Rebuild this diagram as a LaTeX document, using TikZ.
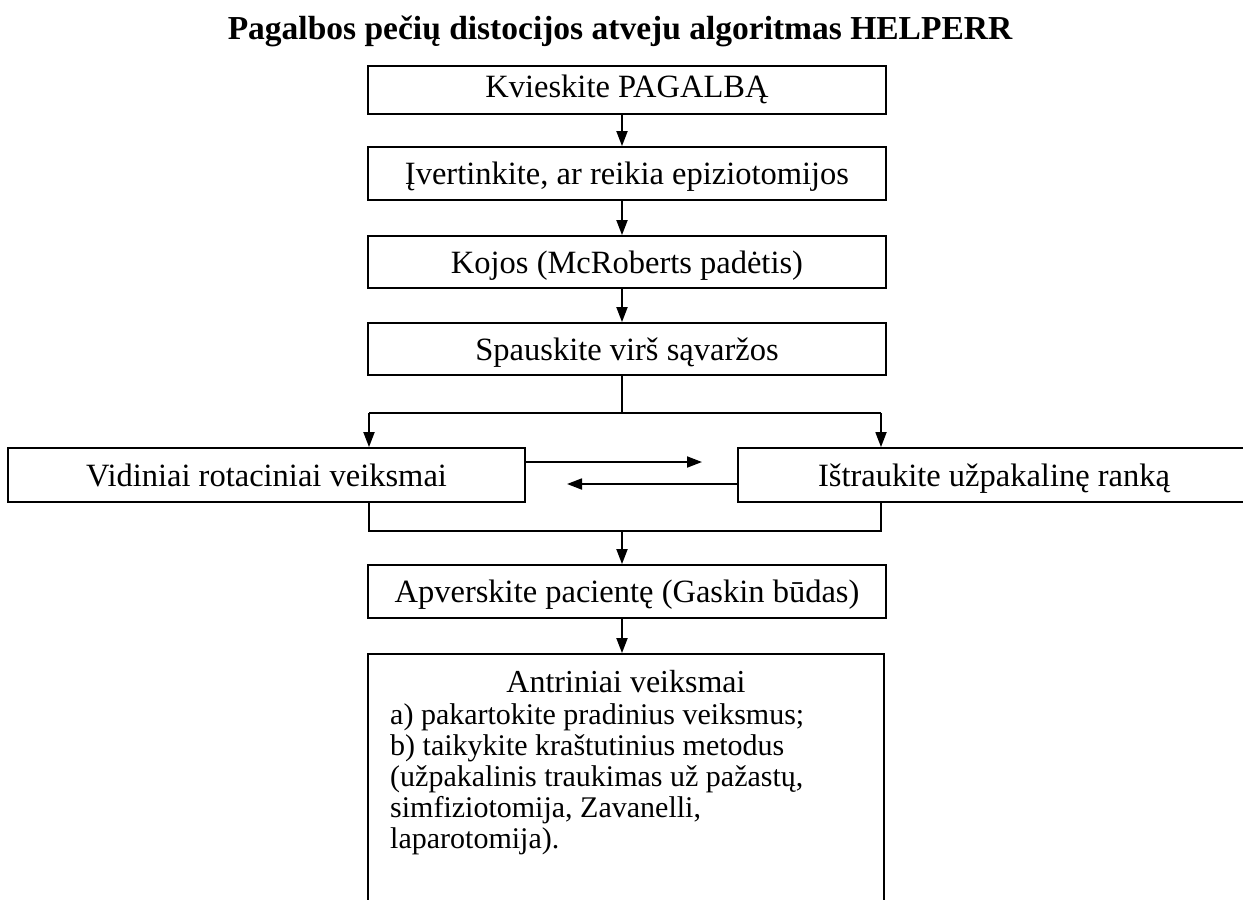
\documentclass[tikz,border=0pt]{standalone}
\usepackage{fontspec}
\setmainfont{Liberation Serif}
\usetikzlibrary{arrows.meta}
\begin{document}
\begin{tikzpicture}[x=1pt,y=-1pt,
  box/.style={draw, line width=1.8pt, rectangle, inner sep=0pt, text height=22.7pt, text depth=0.7pt, font=\fontsize{32.5}{36}\selectfont},
  arr/.style={line width=1.8pt, -{Triangle[width=11pt,length=15pt]}},
  ln/.style={line width=1.8pt},
  txt/.style={inner sep=0pt}]
\useasboundingbox (0,0) rectangle (1243,900);
\clip (0,0) rectangle (1243,900);
\node[inner sep=0pt, anchor=base, font=\bfseries\fontsize{33.5}{38}\selectfont] (title) at (620,39) {Pagalbos pečių distocijos atveju algoritmas HELPERR};
\node[box, minimum width=518pt, minimum height=48pt, text depth=8pt] (b1) at (627,90) {Kvieskite PAGALBĄ};
\node[box, minimum width=518pt, minimum height=53pt] (b2) at (627,173.5) {Įvertinkite, ar reikia epiziotomijos};
\node[box, minimum width=518pt, minimum height=52pt] (b3) at (627,262) {Kojos (McRoberts padėtis)};
\node[box, minimum width=518pt, minimum height=52pt] (b4) at (627,349) {Spauskite virš sąvaržos};
\node[box, minimum width=517pt, minimum height=54pt] (L) at (266.5,475) {Vidiniai rotaciniai veiksmai};
\node[box, minimum width=512pt, minimum height=54pt] (R) at (994,475) {Ištraukite užpakalinę ranką};
\node[box, minimum width=518pt, minimum height=53pt] (b5) at (627,591.5) {Apverskite pacientę (Gaskin būdas)};
\node[box, minimum width=516pt, minimum height=251pt] (b6) at (626,779.5) {};
\node[txt, anchor=base, font=\fontsize{32}{36}\selectfont] (b6t) at (626,692) {Antriniai veiksmai};
\node[txt, anchor=base west, align=left, font=\fontsize{30}{31}\selectfont] (b6l) at (390,848) {a) pakartokite pradinius veiksmus;\\
b) taikykite kraštutinius metodus\\
(užpakalinis traukimas už pažastų,\\
simfiziotomija, Zavanelli,\\
laparotomija).};
\coordinate (ax) at (622,0);
\coordinate (sc) at (622,413);
\coordinate (sl) at (369,413);
\coordinate (sr) at (881,413);
\coordinate (ml) at (369,531);
\coordinate (mc) at (622,531);
\coordinate (mr) at (881,531);
\coordinate (h1) at (0,462);
\coordinate (h1e) at (702,462);
\coordinate (h2) at (0,484);
\coordinate (h2e) at (567,484);
\draw[arr] (b1.south -| ax) -- (b2.north -| ax);
\draw[arr] (b2.south -| ax) -- (b3.north -| ax);
\draw[arr] (b3.south -| ax) -- (b4.north -| ax);
\draw[ln] (b4.south -| ax) -- (sc);
\draw[ln] (sl) -- (sr);
\draw[arr] (sl) -- (L.north -| sl);
\draw[arr] (sr) -- (R.north -| sr);
\draw[arr] (L.east |- h1) -- (h1e);
\draw[arr] (R.west |- h2) -- (h2e);
\draw[ln] (L.south -| ml) -- (ml) -- (mr) -- (R.south -| mr);
\draw[arr] (mc) -- (b5.north -| ax);
\draw[arr] (b5.south -| ax) -- (b6.north -| ax);
\end{tikzpicture}
\end{document}
